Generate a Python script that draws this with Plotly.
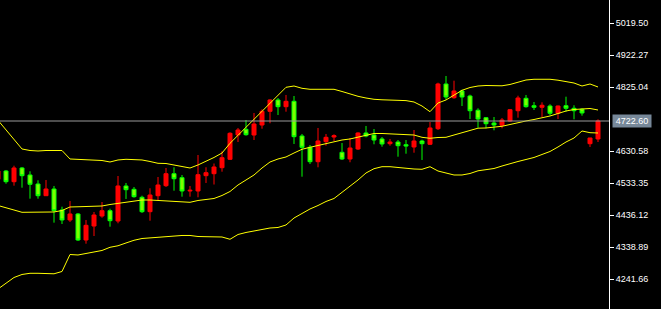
import plotly.graph_objects as go

# bar index (one per candle)
bars = list(range(76))

opens = [4545.5, 4570.7, 4538.2, 4579.9, 4558.6, 4531.2, 4495.7, 4516.0, 4452.2, 4421.9,
         4440.1, 4361.1, 4403.6, 4434.0, 4450.1, 4418.8, 4525.2, 4515.1, 4490.8, 4447.1,
         4495.7, 4526.1, 4562.5, 4550.4, 4510.0, 4510.0, 4556.5, 4562.5, 4580.8, 4606.3,
         4680.1, 4697.4, 4680.1, 4710.5, 4752.1, 4786.5, 4766.1, 4782.5, 4677.1, 4642.7,
         4599.0, 4659.8, 4674.0, 4627.5, 4607.2, 4637.6, 4686.2, 4680.1, 4668.0, 4653.7,
         4658.8, 4650.6, 4643.7, 4661.9, 4651.9, 4699.2, 4835.1, 4793.4, 4813.8, 4798.6,
         4755.2, 4732.7, 4716.6, 4709.6, 4722.7, 4753.9, 4791.6, 4769.1, 4764.3, 4768.2,
         4746.0, 4769.1, 4761.2, 4758.2, 4653.7, 4668.0]
highs = [4576.8, 4573.8, 4586.8, 4582.9, 4569.8, 4542.5, 4543.4, 4525.2, 4462.3, 4479.6,
         4443.1, 4421.9, 4446.2, 4476.5, 4456.2, 4555.5, 4534.3, 4522.1, 4495.7, 4518.2,
         4552.5, 4579.9, 4582.0, 4558.6, 4525.2, 4619.3, 4582.0, 4593.5, 4630.6, 4688.3,
         4701.4, 4725.7, 4747.0, 4758.2, 4788.6, 4792.5, 4801.7, 4798.6, 4683.2, 4649.7,
         4701.4, 4683.2, 4682.2, 4655.8, 4671.0, 4688.3, 4707.5, 4698.3, 4674.0, 4668.0,
         4664.9, 4664.9, 4695.3, 4665.8, 4719.6, 4839.0, 4859.4, 4845.1, 4817.8, 4802.6,
         4761.2, 4734.8, 4734.8, 4731.8, 4759.1, 4799.5, 4801.7, 4780.4, 4779.5, 4773.4,
         4769.5, 4796.5, 4770.4, 4761.2, 4671.5, 4727.8]
lows = [4543.4, 4532.1, 4526.1, 4520.0, 4486.6, 4486.6, 4495.7, 4413.7, 4409.7, 4415.8,
        4358.0, 4349.8, 4373.2, 4428.8, 4401.5, 4411.8, 4485.7, 4489.6, 4443.1, 4419.7,
        4482.6, 4522.1, 4510.9, 4492.7, 4492.7, 4490.8, 4534.3, 4529.7, 4568.6, 4604.2,
        4658.8, 4678.0, 4664.9, 4699.2, 4715.7, 4740.9, 4750.9, 4652.8, 4553.4, 4592.0,
        4582.0, 4647.6, 4661.9, 4604.2, 4597.2, 4634.5, 4673.1, 4651.9, 4644.6, 4647.6,
        4614.2, 4623.3, 4626.3, 4604.2, 4649.7, 4695.3, 4787.4, 4790.4, 4768.2, 4728.7,
        4702.3, 4700.5, 4694.4, 4700.5, 4720.5, 4732.7, 4763.1, 4756.1, 4734.8, 4740.0,
        4728.7, 4750.9, 4727.8, 4738.8, 4643.7, 4658.8]
closes = [4570.7, 4538.2, 4579.9, 4556.5, 4530.3, 4495.7, 4516.0, 4450.1, 4421.9, 4440.1,
          4361.1, 4405.7, 4437.0, 4450.1, 4419.7, 4525.2, 4513.9, 4492.7, 4447.1, 4497.8,
          4528.2, 4562.5, 4547.3, 4510.0, 4512.1, 4559.5, 4565.6, 4582.9, 4611.1, 4685.3,
          4695.3, 4681.0, 4713.5, 4752.1, 4786.5, 4766.1, 4782.5, 4675.0, 4642.7, 4599.0,
          4661.9, 4673.1, 4678.0, 4607.2, 4640.6, 4686.2, 4677.1, 4664.9, 4652.8, 4658.8,
          4647.6, 4646.7, 4661.9, 4653.7, 4701.4, 4835.1, 4795.6, 4813.8, 4795.6, 4753.9,
          4728.7, 4714.4, 4710.5, 4725.7, 4757.0, 4792.5, 4766.1, 4764.3, 4770.4, 4746.0,
          4768.2, 4761.2, 4753.9, 4747.0, 4671.0, 4722.6]

bb_upper = [4724.8, 4695.3, 4664.9, 4637.6, 4633.0, 4631.5, 4633.0, 4633.0, 4633.0, 4607.2,
            4605.7, 4604.2, 4603.2, 4602.6, 4598.1, 4604.2, 4606.3, 4606.3, 4604.2, 4599.6,
            4594.1, 4593.5, 4589.6, 4583.8, 4579.8, 4589.0, 4599.6, 4611.8, 4625.4, 4654.9,
            4679.2, 4703.5, 4727.8, 4752.1, 4776.4, 4800.7, 4825.0, 4829.0, 4822.0, 4819.0,
            4819.0, 4819.0, 4819.0, 4812.3, 4804.7, 4797.7, 4792.5, 4788.6, 4787.1, 4786.5,
            4785.5, 4784.6, 4780.4, 4768.2, 4750.9, 4777.3, 4786.5, 4801.7, 4815.9, 4824.4,
            4829.0, 4830.5, 4830.5, 4829.6, 4833.6, 4840.2, 4847.2, 4849.4, 4849.4, 4849.4,
            4846.6, 4842.7, 4838.1, 4829.0, 4835.1, 4826.0]
bb_middle = [4465.9, 4459.8, 4452.2, 4445.2, 4445.2, 4445.2, 4445.2, 4446.2, 4450.7, 4461.4,
             4462.0, 4462.9, 4463.5, 4464.4, 4468.9, 4472.6, 4477.2, 4479.6, 4482.6, 4482.6,
             4481.1, 4479.6, 4478.1, 4475.9, 4475.6, 4481.1, 4484.7, 4487.2, 4496.3, 4508.4,
             4528.2, 4543.4, 4558.6, 4579.8, 4598.1, 4607.2, 4613.3, 4625.4, 4636.7, 4642.7,
             4648.8, 4654.9, 4660.4, 4664.9, 4668.0, 4674.0, 4680.1, 4684.7, 4684.7, 4683.8,
             4683.2, 4681.6, 4680.1, 4673.1, 4670.1, 4672.5, 4673.1, 4680.1, 4687.7, 4695.3,
             4700.8, 4701.4, 4703.5, 4706.6, 4712.0, 4718.1, 4722.7, 4727.2, 4731.8, 4737.8,
             4745.4, 4753.0, 4757.6, 4759.7, 4760.6, 4756.1]
bb_lower = [4212.2, 4230.4, 4247.1, 4256.3, 4259.9, 4259.9, 4259.9, 4258.4, 4265.4, 4317.0,
            4315.5, 4320.1, 4325.2, 4329.2, 4338.9, 4343.5, 4352.0, 4360.2, 4365.6, 4367.8,
            4369.3, 4370.8, 4372.3, 4374.8, 4374.8, 4371.7, 4371.1, 4371.1, 4370.2, 4363.2,
            4377.8, 4383.9, 4388.4, 4393.0, 4397.5, 4399.1, 4406.7, 4427.9, 4441.6, 4455.3,
            4465.9, 4478.1, 4487.2, 4505.4, 4523.6, 4543.4, 4564.7, 4577.7, 4583.8, 4583.8,
            4581.4, 4578.3, 4576.8, 4575.9, 4583.8, 4570.7, 4564.0, 4558.6, 4558.6, 4563.1,
            4571.3, 4575.3, 4578.3, 4585.9, 4593.5, 4599.6, 4605.7, 4611.8, 4620.9, 4630.0,
            4643.7, 4658.8, 4671.0, 4692.3, 4687.1, 4686.2]

tick_vals = [4241.66, 4338.89, 4436.12, 4533.35, 4630.58, 4825.04, 4922.27, 5019.50]
tick_text = ["%.2f" % v for v in tick_vals]
current_price = 4722.60
hidden_tick = 4144.43

fig = go.Figure()
for band in (bb_upper, bb_middle, bb_lower):
    fig.add_trace(go.Scatter(x=bars, y=band, mode="lines",
                             line=dict(color="#ffff00", width=1), hoverinfo="skip"))

fig.add_trace(go.Candlestick(
    x=bars, open=opens, high=highs, low=lows, close=closes,
    increasing=dict(line=dict(color="#ff0000", width=1), fillcolor="#ff0000"),
    decreasing=dict(line=dict(color="#00ff00", width=1), fillcolor="#7cfc00"),
    whiskerwidth=0,
))

fig.add_shape(type="line", xref="paper", x0=0, x1=1, yref="y",
              y0=current_price, y1=current_price, line=dict(color="#9a9a9a", width=1))

fig.add_annotation(x=1, xref="paper", y=current_price, yref="y", xanchor="left",
                   xshift=3, text="%.2f" % current_price, showarrow=False,
                   bgcolor="#778899", borderpad=1, width=36, height=10,
                   font=dict(family="Liberation Sans, Arial", size=9, color="#ffffff"))
fig.add_annotation(x=1, xref="paper", y=hidden_tick, yref="y", xanchor="left",
                   xshift=4, text="%.2f" % hidden_tick, showarrow=False,
                   font=dict(family="Liberation Sans, Arial", size=9, color="#ffffff"))

fig.update_layout(
    width=661, height=309,
    margin=dict(l=0, r=52, t=0, b=0),
    paper_bgcolor="#000000", plot_bgcolor="#000000",
    showlegend=False,
    boxgap=0.5, boxgroupgap=0,
    font=dict(family="Liberation Sans, Arial", size=9, color="#ffffff"),
)
fig.update_xaxes(range=[0.25, 76.375], showgrid=False, zeroline=False,
                 showticklabels=False, showline=False, rangeslider=dict(visible=False),
                 fixedrange=True)
fig.update_yaxes(range=[4151.4, 5090.3], side="right", showgrid=False, zeroline=False,
                 showline=True, linecolor="#ffffff", linewidth=1,
                 ticks="outside", ticklen=4, tickcolor="#ffffff", tickwidth=1,
                 tickvals=tick_vals, ticktext=tick_text,
                 tickfont=dict(family="Liberation Sans, Arial", size=9, color="#ffffff"),
                 fixedrange=True)

fig.write_html("out.html")
